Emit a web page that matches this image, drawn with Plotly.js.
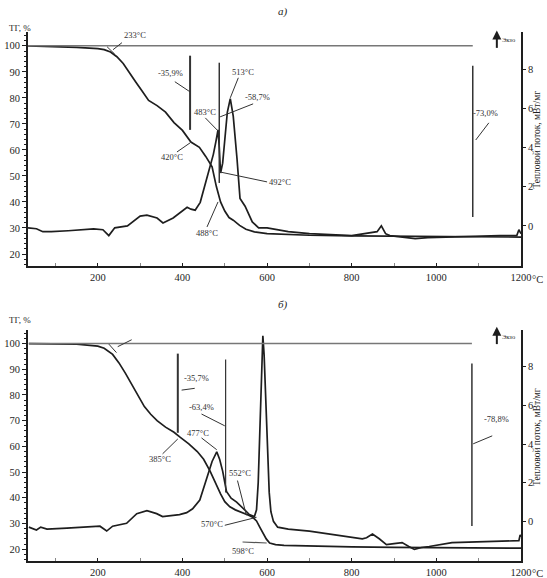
<!DOCTYPE html>
<html>
<head>
<meta charset="utf-8">
<script src="https://cdn.plot.ly/plotly-3.0.1.min.js"></script>
<style>
html,body{margin:0;padding:0;background:#fff;}
#chart{width:547px;height:578px;}
</style>
</head>
<body>
<div id="chart"></div>
<script>
// ---- Panel а) ----
var tgA_T = [35, 100, 150, 200, 215, 230, 245, 260, 275, 290, 305, 320, 340, 360, 380, 400, 420, 440, 455, 470, 480, 490, 500, 510, 520, 535, 550, 570, 600, 650, 700, 800, 900, 1000, 1100, 1200];
var tgA_V = [100, 99.8, 99.4, 98.9, 98.5, 97.6, 95.8, 93.2, 89.8, 86, 82.5, 79, 77, 74.5, 70.5, 67.5, 63, 61, 57.5, 53.5, 46, 40, 36.5, 34, 33, 31, 29.5, 28.5, 27.8, 27.4, 27.2, 27, 26.9, 26.7, 26.6, 26.5];

var dscA_T = [35, 55, 70, 90, 130, 190, 212, 226, 240, 270, 300, 316, 340, 354, 378, 400, 411, 420, 430, 442, 458, 473, 479, 484, 487, 490, 495, 500, 506, 513, 520, 529, 536, 548, 555, 565, 580, 600, 650, 700, 800, 860, 870, 880, 890, 950, 980, 1050, 1100, 1150, 1190, 1195, 1200];
var dscA_V = [-0.1, -0.15, -0.3, -0.3, -0.25, -0.15, -0.2, -0.5, -0.1, 0, 0.5, 0.55, 0.4, 0.15, 0.4, 0.75, 0.95, 0.85, 0.8, 1.2, 2.4, 3.65, 4.3, 4.9, 4.0, 2.7, 3.2, 4.6, 5.8, 6.5, 5.6, 3.4, 1.4, 1.0, 0.7, 0.2, -0.1, -0.1, -0.3, -0.4, -0.5, -0.3, 0.0, -0.4, -0.5, -0.65, -0.6, -0.55, -0.55, -0.5, -0.5, -0.2, -0.4];

// ---- Panel б) ----
var tgB_T = [37, 100, 150, 200, 215, 235, 250, 265, 280, 295, 310, 325, 340, 360, 380, 395, 415, 435, 450, 465, 480, 490, 500, 512, 525, 540, 555, 566, 575, 583, 590, 598, 606, 620, 640, 700, 800, 900, 1000, 1100, 1200];
var tgB_V = [100, 100, 99.8, 99, 98.2, 95.8, 92.5, 88.5, 84, 79.5, 75.5, 72.5, 70, 67.5, 65.5, 63.5, 61, 58, 55, 50.5, 45, 41.5, 38.5, 36.5, 35.3, 34.4, 33.3, 32.4, 31, 28.5, 26.5, 24, 22.4, 21.8, 21.5, 21.2, 20.9, 20.7, 20.6, 20.5, 20.4];

var dscB_T = [37, 55, 65, 80, 127, 205, 221, 235, 268, 292, 316, 339, 353, 370, 393, 410, 424, 441, 457, 470, 481, 488, 495, 504, 515, 528, 547, 558, 570, 575, 579, 583, 587, 590, 593, 597, 601, 605, 609, 615, 625, 650, 700, 750, 800, 825, 835, 849, 865, 882, 900, 919, 935, 948, 965, 983, 1037, 1100, 1150, 1195, 1198, 1200];
var dscB_V = [-0.3, -0.45, -0.3, -0.4, -0.35, -0.25, -0.5, -0.25, -0.1, 0.4, 0.55, 0.4, 0.25, 0.3, 0.35, 0.45, 0.65, 1.1, 2.2, 3.1, 3.6, 3.2, 2.6, 1.55, 1.2, 1.0, 0.6, 0.35, 0.25, 0.6, 2.0, 4.8, 8.0, 9.6, 8.6, 6.0, 3.5, 1.5, 0.5, 0.0, -0.3, -0.4, -0.5, -0.65, -0.8, -0.9, -0.85, -0.65, -0.9, -1.2, -1.15, -1.1, -1.3, -1.45, -1.35, -1.3, -1.1, -1.05, -1.0, -1.0, -0.7, -0.8];

// labels
var labelsA = ["233°C", "-35,9%", "513°C", "-58,7%", "483°C", "420°C", "492°C", "488°C", "-73,0%"];
var labelsB = ["238°C", "589°C", "-35,7%", "-63,4%", "477°C", "385°C", "552°C", "570°C", "598°C", "-78,8%"];
var tgTitle = "ТГ, %";
var dscTitle = "Тепловой поток, мВт/мг";
var exoText = "Экзо";
var panelTitles = ["а)", "б)"];

var FONT = "Liberation Serif, Times New Roman, serif";
var INK = "#1e1e1e";

function tr(x, y, xa, ya) {
  return {x: x, y: y, xaxis: xa, yaxis: ya, type: "scatter", mode: "lines",
    line: {color: INK, width: 1.7}, hoverinfo: "skip", showlegend: false};
}
var data = [
  tr(tgA_T, tgA_V, "x", "y"),
  tr(dscA_T, dscA_V, "x", "y2"),
  tr(tgB_T, tgB_V, "x2", "y3"),
  tr(dscB_T, dscB_V, "x2", "y4")
];

function xax(anchor) {
  return {anchor: anchor, domain: [0, 1], range: [35, 1200], tick0: 0, dtick: 200,
    ticks: "inside", ticklen: 3, tickcolor: INK, showline: true, linewidth: 2, linecolor: INK,
    showgrid: false, zeroline: false, tickfont: {family: FONT, size: 10.5, color: INK},
    minor: {dtick: 100, tick0: 0, ticks: "inside", ticklen: 3, tickcolor: "#888"}};
}
function tgax(anchor, dom) {
  return {anchor: anchor, domain: dom, range: [15.4, 105.3], tick0: 0, dtick: 10,
    ticks: "outside", ticklen: 4, tickcolor: INK, showline: true, linewidth: 2, linecolor: INK,
    showgrid: false, zeroline: false, tickfont: {family: FONT, size: 10.5, color: INK},
    minor: {dtick: 2, tick0: 0, ticks: "outside", ticklen: 2, tickcolor: INK}};
}
function dscax(anchor, over) {
  return {anchor: anchor, overlaying: over, side: "right", range: [-2.05, 9.9],
    tickvals: [0, 2, 4, 6, 8], ticks: "outside", ticklen: 3, tickcolor: INK,
    showline: true, linewidth: 2, linecolor: INK, showgrid: false, zeroline: false,
    tickfont: {family: FONT, size: 10.5, color: INK}};
}

function seg(xr, yr, x0, y0, x1, y1, w, c) {
  return {type: "line", xref: xr, yref: yr, x0: x0, y0: y0, x1: x1, y1: y1,
    line: {color: c || "#333", width: w || 1}};
}
var shapes = [
  // panel a
  seg("x", "y", 35, 100, 1086, 100, 1.5, "#777"),
  seg("x", "y", 418, 96.2, 418, 67.7, 2, "#333"),
  seg("x", "y", 487, 93.5, 487, 47.3, 1.5, "#333"),
  seg("x", "y", 1086, 92.3, 1086, 34.2, 1.5, "#333"),
  seg("x", "y", 236, 98.5, 257, 101.2),
  seg("x", "y", 222, 99.6, 240, 96.8),
  seg("x", "y", 382, 86.2, 418, 82.3),
  seg("x", "y", 513, 80, 532, 87.7),
  seg("x", "y", 567, 77.7, 489, 72.7),
  seg("x", "y", 454, 72.3, 484, 67.3),
  seg("x", "y", 387, 59.2, 418, 62.7),
  seg("x", "y", 600, 47.7, 489, 51.5),
  seg("x", "y", 458, 30.4, 484, 40),
  seg("x", "y", 1093, 63.8, 1124, 70.4),
  // panel б
  seg("x2", "y3", 37, 100, 1084, 100, 1.5, "#777"),
  seg("x2", "y3", 389, 96.1, 389, 65.3, 2, "#333"),
  seg("x2", "y3", 502, 93.8, 502, 42.1, 1.2, "#333"),
  seg("x2", "y3", 1084, 92.3, 1084, 29, 1.5, "#333"),
  seg("x2", "y3", 247, 98.8, 280, 101.5),
  seg("x2", "y3", 226, 99.8, 244, 96.5),
  seg("x2", "y3", 398, 81.9, 429, 82.6),
  seg("x2", "y3", 445, 72.6, 500, 68),
  seg("x2", "y3", 445, 63.3, 481, 58.7),
  seg("x2", "y3", 353, 57.1, 389, 62.9),
  seg("x2", "y3", 530, 46.7, 551, 33.2),
  seg("x2", "y3", 500, 29.3, 575, 32.4),
  seg("x2", "y3", 542, 22.8, 599, 22.4, 1.2, "#555"),
  seg("x2", "y3", 1087, 61, 1132, 64.1),
  // exo arrow shafts (paper)
  seg("paper", "paper", 0.951, 0.970, 0.951, 0.995, 2, INK),
  seg("paper", "paper", 0.951, 0.410, 0.951, 0.435, 2, INK)
];

function lab(xr, yr, x, y, t) {
  return {xref: xr, yref: yr, x: x, y: y, text: t, showarrow: false,
    font: {family: FONT, size: 8.5, color: "#333"}, xanchor: "center", yanchor: "middle"};
}
var posA = [[288, 104.2], [371, 89.6], [544, 90], [577, 80.4], [454, 74.6], [375, 57.3], [631, 47.7], [458, 28.1], [1117, 74.2]];
var posB = [[306, 106.2], [589, 106.6], [433, 86.5], [445, 75.3], [436, 65.3], [346, 55.2], [535, 49.8], [469, 29.7], [542, 19.3], [1143, 70.7]];
var annotations = [];
labelsA.forEach(function (t, i) { annotations.push(lab("x", "y", posA[i][0], posA[i][1], t)); });
labelsB.forEach(function (t, i) { annotations.push(lab("x2", "y3", posB[i][0], posB[i][1], t)); });

function pap(x, y, t, size, extra) {
  var a = {xref: "paper", yref: "paper", x: x, y: y, text: t, showarrow: false,
    font: {family: FONT, size: size, color: INK}, xanchor: "center", yanchor: "middle"};
  for (var k in extra) a[k] = extra[k];
  return a;
}
annotations.push(pap(0.517, 1.038, "<i>" + panelTitles[0] + "</i>", 11));
annotations.push(pap(0.517, 0.484, "<i>" + panelTitles[1] + "</i>", 11));
annotations.push(pap(-0.016, 1.008, tgTitle, 9));
annotations.push(pap(-0.016, 0.456, tgTitle, 9));
annotations.push(pap(1.032, 0.796, dscTitle, 9.5, {textangle: -90}));
annotations.push(pap(1.032, 0.234, dscTitle, 9.5, {textangle: -90}));
annotations.push(pap(1.019, 0.532, "°C", 10.5, {xanchor: "left"}));
annotations.push(pap(1.019, -0.024, "°C", 10.5, {xanchor: "left"}));
// exo labels
annotations.push(pap(0.958, 0.985, exoText, 6.5, {xanchor: "left"}));
annotations.push(pap(0.958, 0.425, exoText, 6.5, {xanchor: "left"}));
annotations.push({xref: "paper", yref: "paper", x: 0.951, y: 1.003, text: " ", showarrow: true,
  ax: 0, ay: 15, arrowhead: 2, arrowsize: 0.9, arrowwidth: 2, arrowcolor: INK, standoff: 0});
annotations.push({xref: "paper", yref: "paper", x: 0.951, y: 0.443, text: " ", showarrow: true,
  ax: 0, ay: 15, arrowhead: 2, arrowsize: 0.9, arrowwidth: 2, arrowcolor: INK, standoff: 0});

var layout = {
  width: 547, height: 578,
  margin: {l: 28, r: 26, t: 32, b: 17},
  paper_bgcolor: "#fff", plot_bgcolor: "#fff",
  showlegend: false,
  font: {family: FONT, color: INK},
  xaxis: xax("y"),
  yaxis: tgax("x", [0.5577, 1]),
  yaxis2: dscax("x", "y"),
  xaxis2: xax("y3"),
  yaxis3: tgax("x2", [0, 0.4367]),
  yaxis4: dscax("x2", "y3"),
  shapes: shapes,
  annotations: annotations
};

Plotly.newPlot("chart", data, layout, {staticPlot: true, displayModeBar: false});
</script>
</body>
</html>
